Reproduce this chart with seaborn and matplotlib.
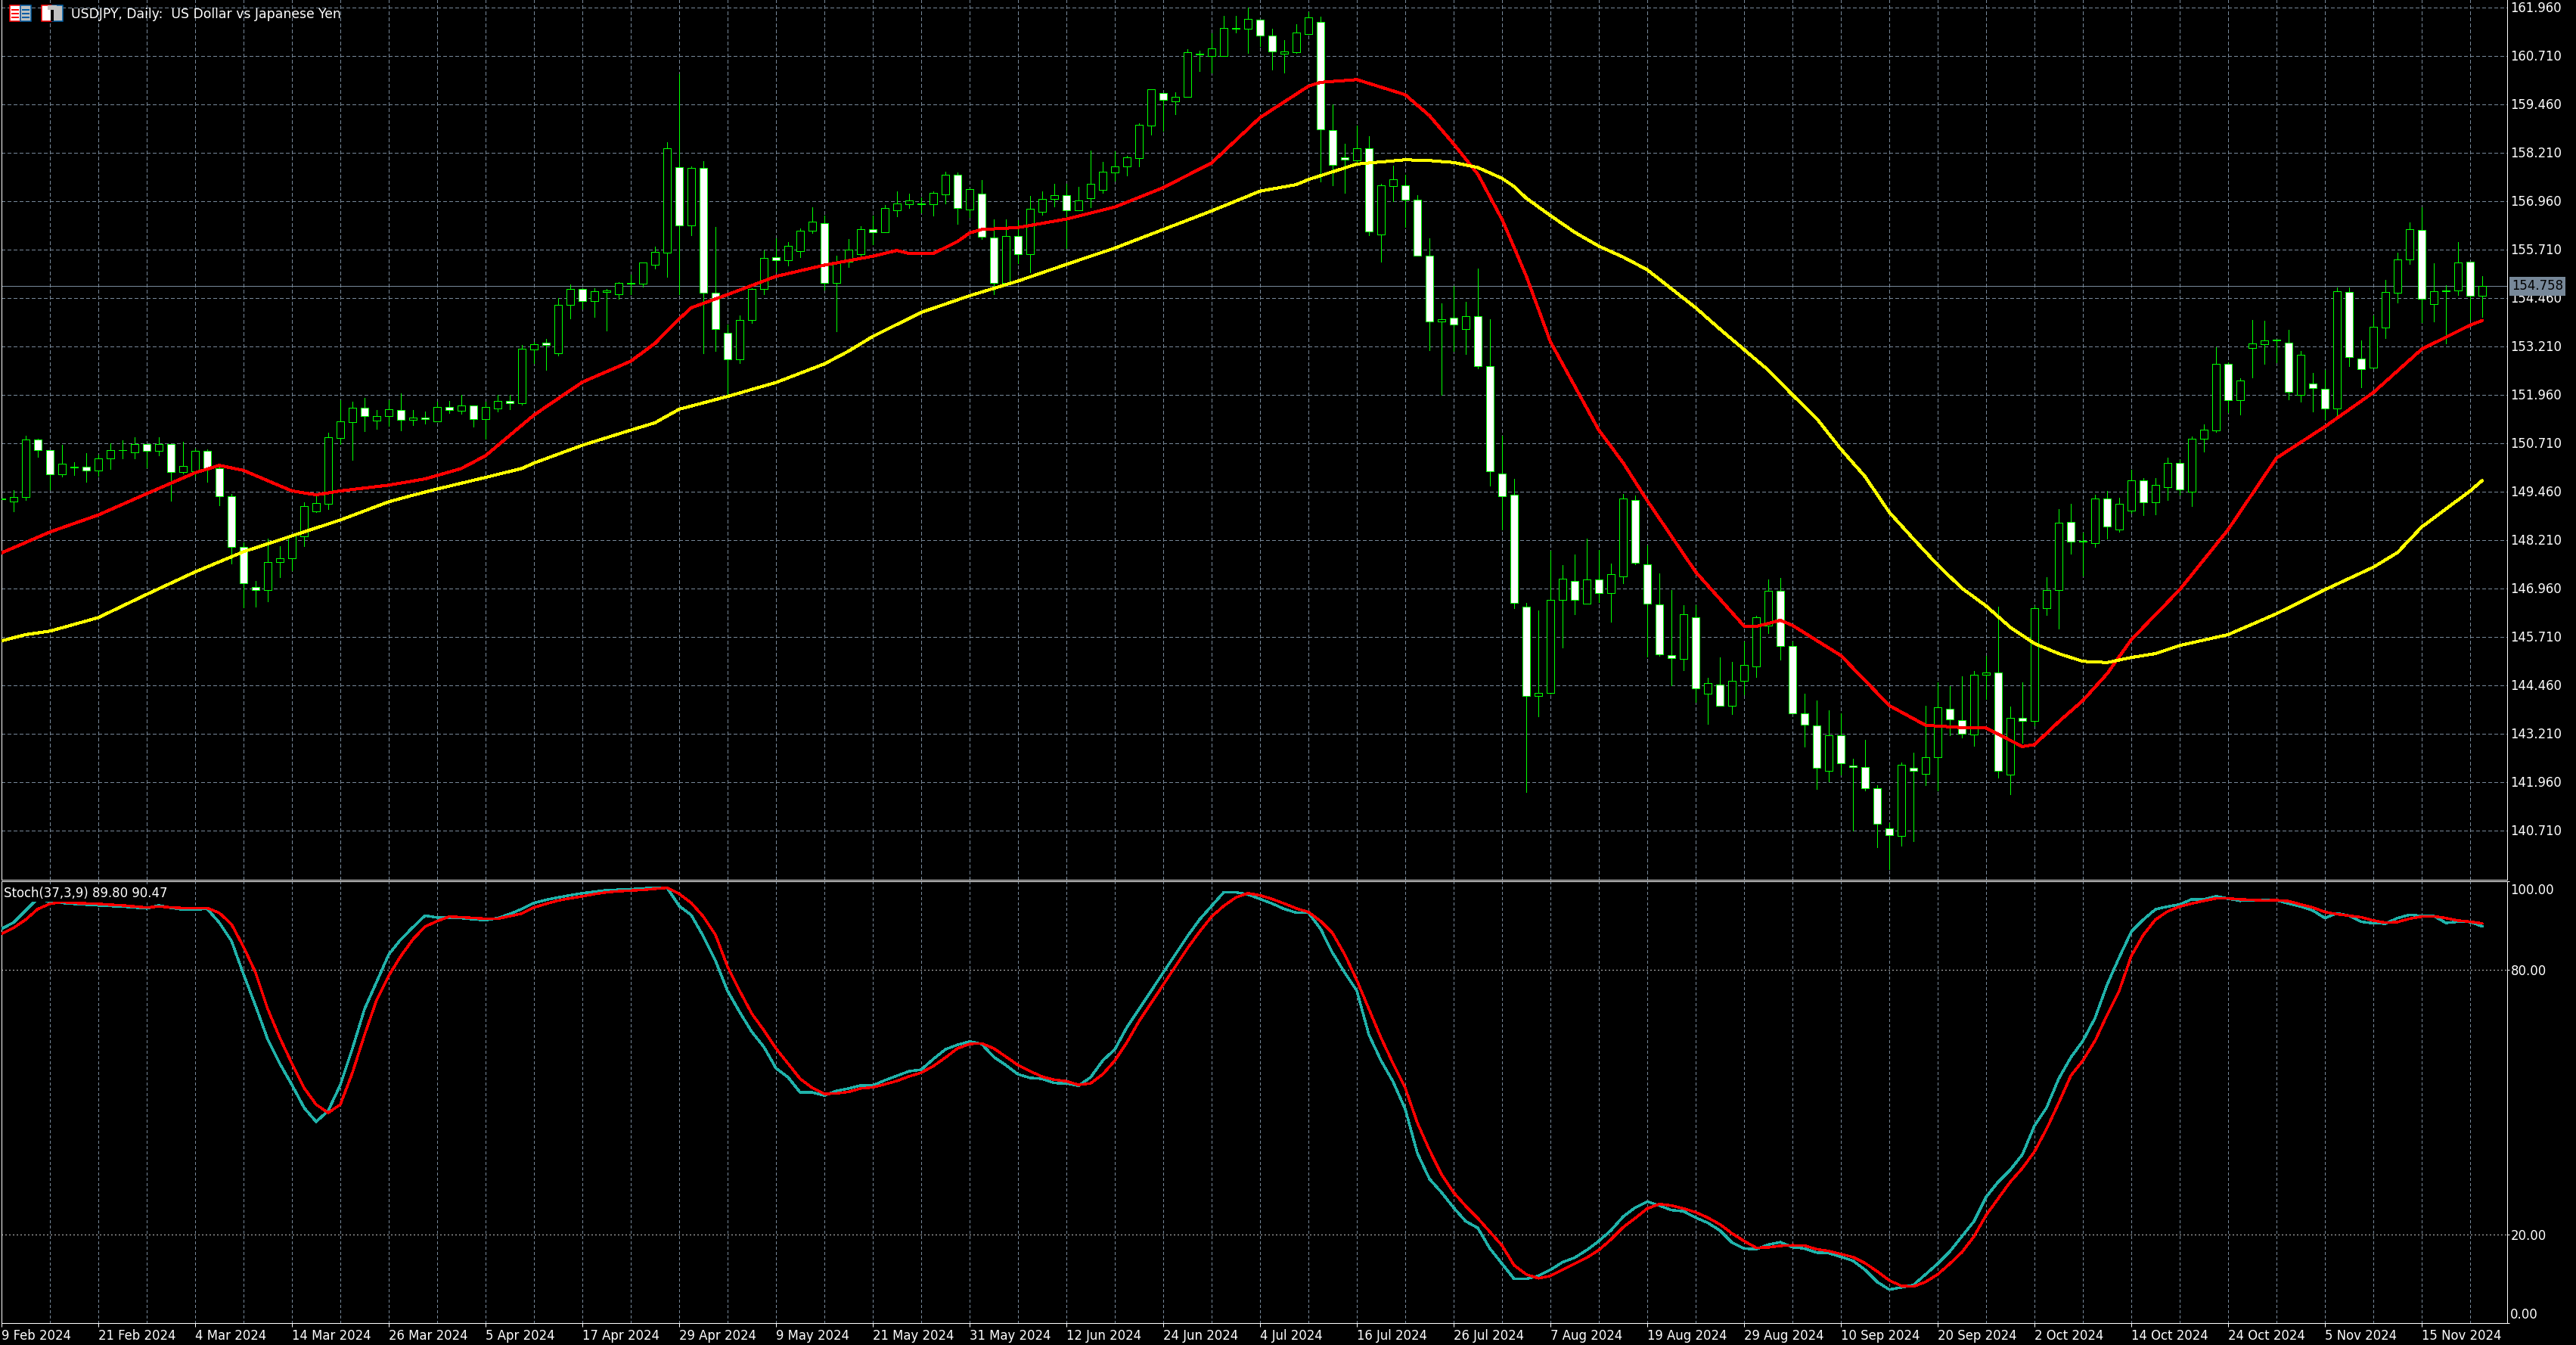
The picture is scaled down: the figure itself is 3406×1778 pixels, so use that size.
import matplotlib
matplotlib.use("Agg")
import matplotlib.pyplot as plt
from matplotlib.patches import Rectangle
from matplotlib.transforms import IdentityTransform
import numpy as np
import pandas as pd
import seaborn as sns

W, H = 3406, 1778

tick_labels = ["9 Feb 2024", "21 Feb 2024", "4 Mar 2024", "14 Mar 2024", "26 Mar 2024", "5 Apr 2024",
               "17 Apr 2024", "29 Apr 2024", "9 May 2024", "21 May 2024", "31 May 2024", "12 Jun 2024",
               "24 Jun 2024", "4 Jul 2024", "16 Jul 2024", "26 Jul 2024", "7 Aug 2024", "19 Aug 2024",
               "29 Aug 2024", "10 Sep 2024", "20 Sep 2024", "2 Oct 2024", "14 Oct 2024", "24 Oct 2024",
               "5 Nov 2024", "15 Nov 2024"]

# B = close above open (black body), S = close below open (white body); ten bars per group
direction = "".join(["BBBSSBBSBB", "BBSBSBBSSS", "SSBBBBBBBB", "SBBSBSBSBS", "BBSBBSBBSB",
                     "BBBBBBSBSS", "SBBBSBBBSB", "BBSBBBSBBS", "BSSBSBBBSB", "BBBBBBSBBB",
                     "BBBBSSBBBS", "SSBSBBSSSB", "SBSSSSSBBB", "SBSBBSSSSB", "SBSBBBBSSS",
                     "SBSSSSSBSB", "BSSBBSBSBB", "BSSBSBBSBB", "SBBBSBBBBS", "BSSBSSBBBB",
                     "SBBBSB"])

body_top = [149.28, 149.32, 150.79, 150.79, 150.53, 150.18, 150.09, 150.09, 150.30, 150.53,
            150.53, 150.69, 150.69, 150.69, 150.69, 150.12, 150.51, 150.51, 150.05, 149.34,
            148.03, 146.98, 147.64, 147.74, 148.31, 149.07, 149.15, 150.85, 151.26, 151.61,
            151.61, 151.41, 151.57, 151.55, 151.37, 151.37, 151.64, 151.64, 151.68, 151.68,
            151.63, 151.80, 151.80, 153.15, 153.26, 153.29, 154.28, 154.69, 154.69, 154.63,
            154.65, 154.85, 154.85, 155.36, 155.65, 158.31, 157.82, 157.81, 157.81, 154.58,
            153.56, 153.88, 154.68, 155.49, 155.50, 155.79, 156.19, 156.42, 156.38, 155.39,
            155.70, 156.23, 156.23, 156.77, 156.89, 156.97, 156.89, 157.16, 157.63, 157.63,
            157.26, 157.15, 156.01, 156.06, 156.06, 156.75, 157.01, 157.11, 157.11, 156.97,
            157.39, 157.72, 157.85, 158.08, 158.93, 159.84, 159.75, 159.64, 160.79, 160.75,
            160.89, 161.43, 161.43, 161.65, 161.63, 161.22, 160.81, 161.30, 161.69, 161.58,
            158.79, 158.08, 158.32, 158.31, 157.37, 157.51, 157.37, 156.98, 155.54, 153.91,
            153.94, 153.99, 153.99, 152.69, 149.92, 149.37, 146.48, 144.25, 146.65, 147.20,
            147.15, 147.18, 147.18, 147.32, 149.27, 149.23, 147.57, 146.54, 145.23, 146.28,
            146.20, 144.51, 144.47, 144.57, 144.98, 146.20, 146.89, 146.89, 145.46, 143.73,
            143.42, 143.16, 143.16, 142.38, 142.35, 141.80, 140.76, 142.39, 142.32, 142.60,
            143.89, 143.85, 143.55, 144.73, 144.79, 144.79, 143.62, 143.62, 146.45, 146.92,
            148.64, 148.67, 148.19, 149.28, 149.28, 149.13, 149.74, 149.74, 149.62, 150.19,
            150.19, 150.81, 151.05, 152.75, 152.75, 152.32, 153.27, 153.35, 153.38, 153.30,
            152.98, 152.25, 152.10, 154.62, 154.60, 152.89, 153.70, 154.60, 155.44, 156.23,
            156.20, 154.63, 154.64, 155.36, 155.38, 154.758]
body_bottom = [149.26, 149.20, 149.32, 150.53, 149.90, 149.90, 150.08, 150.00, 150.00, 150.30,
               150.52, 150.47, 150.51, 150.51, 149.96, 149.96, 149.98, 150.05, 149.34, 148.03,
               147.08, 146.91, 146.91, 147.64, 147.73, 148.30, 148.95, 149.14, 150.84, 151.25,
               151.41, 151.29, 151.41, 151.31, 151.31, 151.33, 151.27, 151.55, 151.54, 151.33,
               151.33, 151.60, 151.74, 151.74, 153.13, 153.24, 153.02, 154.28, 154.38, 154.38,
               154.61, 154.55, 154.82, 154.82, 155.31, 155.63, 156.33, 156.32, 154.58, 153.64,
               152.87, 152.87, 153.88, 154.68, 155.42, 155.42, 155.66, 156.18, 154.85, 154.85,
               155.39, 155.59, 156.14, 156.14, 156.71, 156.88, 156.87, 156.87, 157.12, 156.77,
               156.73, 156.03, 154.84, 154.84, 155.59, 155.59, 156.67, 157.00, 156.71, 156.71,
               157.02, 157.25, 157.70, 157.84, 158.07, 158.90, 159.56, 159.52, 159.64, 160.73,
               160.71, 160.71, 161.41, 161.40, 161.22, 160.81, 160.76, 160.80, 161.26, 158.80,
               157.88, 158.03, 158.01, 156.16, 156.10, 157.35, 156.98, 155.54, 153.84, 153.84,
               153.76, 153.64, 152.69, 149.97, 149.34, 146.57, 144.17, 144.17, 144.25, 146.65,
               146.65, 146.56, 146.83, 146.83, 147.26, 147.61, 146.55, 145.25, 145.15, 145.13,
               144.37, 144.23, 143.92, 143.92, 144.56, 144.93, 146.00, 145.46, 143.73, 143.43,
               142.32, 142.25, 142.44, 142.34, 141.80, 140.88, 140.59, 140.57, 142.25, 142.17,
               142.59, 143.58, 143.21, 143.19, 144.73, 142.25, 142.15, 143.54, 143.54, 146.45,
               146.92, 148.17, 148.17, 148.13, 148.56, 148.48, 148.96, 149.18, 149.18, 149.57,
               149.51, 149.46, 150.81, 151.03, 151.81, 151.81, 153.17, 153.25, 153.35, 152.02,
               151.95, 152.12, 151.60, 151.60, 152.92, 152.62, 152.66, 153.68, 154.58, 155.44,
               154.43, 154.29, 154.63, 154.64, 154.51, 154.51]
highs = [149.40, 149.49, 150.89, 150.81, 150.53, 150.66, 150.21, 150.44, 150.40, 150.70,
         150.78, 150.85, 150.69, 150.85, 150.69, 150.74, 150.57, 150.55, 150.09, 149.39,
         148.15, 147.14, 148.23, 148.04, 148.33, 149.17, 149.34, 150.97, 151.82, 151.77,
         151.87, 151.55, 151.82, 151.98, 151.55, 151.52, 151.77, 151.80, 151.95, 151.68,
         151.77, 151.95, 151.95, 153.24, 153.32, 153.39, 154.46, 154.80, 154.71, 154.71,
         154.68, 154.86, 155.05, 155.36, 155.77, 158.47, 160.24, 157.85, 157.98, 156.28,
         153.77, 154.00, 154.70, 155.68, 155.99, 155.89, 156.24, 156.80, 156.57, 155.55,
         155.97, 156.30, 156.57, 156.85, 157.21, 157.15, 157.05, 157.21, 157.71, 157.69,
         157.28, 157.49, 156.49, 156.49, 156.46, 157.09, 157.21, 157.40, 157.40, 157.32,
         158.26, 157.96, 158.23, 158.13, 158.97, 159.85, 159.75, 159.76, 160.87, 160.83,
         161.28, 161.74, 161.74, 161.96, 161.63, 161.40, 161.12, 161.53, 161.84, 161.71,
         159.46, 158.43, 158.91, 158.63, 157.40, 157.87, 157.63, 157.10, 155.99, 154.31,
         154.77, 154.35, 155.21, 153.90, 150.90, 149.78, 146.57, 146.38, 147.92, 147.55,
         147.83, 148.23, 147.94, 147.59, 149.39, 149.35, 148.06, 147.35, 146.92, 146.52,
         146.52, 144.65, 145.17, 145.05, 145.58, 146.25, 147.19, 147.23, 145.58, 144.24,
         144.05, 143.80, 143.72, 142.55, 143.05, 141.88, 140.89, 142.45, 142.71, 143.93,
         144.52, 144.44, 144.68, 144.83, 145.22, 146.49, 143.90, 144.52, 146.51, 147.24,
         149.01, 149.13, 148.39, 149.37, 149.47, 149.29, 150.01, 149.81, 149.80, 150.32,
         150.27, 150.87, 151.18, 153.19, 152.79, 152.38, 153.88, 153.87, 153.38, 153.63,
         153.09, 152.52, 152.59, 154.72, 154.72, 153.36, 154.00, 154.92, 155.63, 156.41,
         156.80, 155.35, 154.79, 155.90, 155.38, 155.01]
lows = [149.04, 148.95, 149.24, 150.35, 149.51, 149.84, 149.88, 149.71, 149.86, 150.03,
        150.31, 150.31, 150.07, 150.38, 149.22, 149.92, 149.84, 149.71, 149.10, 147.60,
        146.47, 146.49, 146.62, 147.24, 147.42, 148.05, 148.92, 149.00, 150.69, 150.27,
        151.01, 151.07, 151.15, 151.03, 151.17, 151.20, 151.27, 151.49, 151.47, 151.13,
        150.81, 151.52, 151.58, 151.70, 152.78, 152.60, 152.97, 153.93, 154.18, 153.97,
        153.61, 154.44, 154.55, 154.75, 155.21, 155.00, 154.55, 156.07, 153.02, 153.08,
        151.92, 152.77, 153.80, 154.54, 155.14, 155.29, 155.51, 156.13, 154.66, 153.60,
        155.26, 155.52, 155.83, 156.14, 156.55, 156.77, 156.65, 156.58, 156.90, 156.37,
        156.54, 155.97, 154.54, 154.78, 155.35, 155.12, 156.59, 156.82, 155.74, 156.71,
        156.80, 157.17, 157.48, 157.62, 157.84, 158.67, 158.77, 159.20, 159.64, 160.31,
        160.28, 160.71, 161.30, 160.78, 160.96, 160.35, 160.27, 160.77, 161.26, 157.45,
        157.36, 157.17, 157.91, 156.07, 155.38, 156.96, 156.29, 155.54, 153.11, 151.96,
        153.08, 153.00, 152.64, 149.61, 148.48, 146.44, 141.69, 143.64, 144.24, 145.43,
        146.28, 146.56, 146.59, 146.09, 147.08, 147.58, 145.19, 145.21, 144.45, 144.85,
        144.03, 143.45, 143.92, 143.70, 144.22, 144.66, 145.79, 145.12, 143.73, 142.86,
        141.77, 141.97, 142.15, 140.71, 141.74, 140.27, 139.70, 140.31, 140.43, 141.87,
        141.73, 143.16, 143.11, 142.89, 144.09, 142.06, 141.64, 142.96, 143.42, 146.27,
        145.92, 147.85, 147.29, 148.03, 148.24, 148.42, 148.91, 148.85, 148.87, 149.24,
        149.37, 149.08, 150.49, 151.00, 151.50, 151.45, 152.40, 152.75, 152.79, 151.84,
        151.78, 151.53, 151.32, 151.38, 152.69, 152.15, 152.65, 153.42, 154.34, 155.33,
        153.83, 153.84, 153.28, 154.53, 153.90, 153.97]

red_bars = [0, 4, 8, 12, 16, 18, 20, 24, 26, 28, 32, 35, 38, 40, 44, 48, 52, 54, 56, 57, 60, 64, 68, 72,
            74, 75, 77, 79, 80, 81, 84, 88, 92, 96, 100, 104, 108, 109, 112, 116, 118, 120, 122, 124, 126,
            128, 130, 132, 134, 135, 136, 140, 144, 145, 147, 148, 152, 156, 159, 160, 162, 164, 167, 168,
            170, 172, 174, 176, 180, 184, 188, 192, 196, 200, 204, 205]
red_ma = [147.87, 148.41, 148.85, 149.40, 149.94, 150.13, 150.00, 149.47, 149.37, 149.47, 149.62, 149.78,
          150.05, 150.38, 151.43, 152.28, 152.82, 153.28, 153.91, 154.20, 154.54, 155.01, 155.30, 155.53,
          155.68, 155.60, 155.60, 155.91, 156.13, 156.22, 156.27, 156.49, 156.80, 157.30, 157.94, 159.11,
          159.92, 160.02, 160.09, 159.70, 159.16, 158.43, 157.65, 156.48, 155.02, 153.32, 152.18, 151.04,
          150.20, 149.71, 149.22, 147.38, 145.98, 145.97, 146.13, 146.00, 145.22, 143.93, 143.42, 143.40,
          143.36, 143.35, 142.87, 142.92, 143.51, 144.06, 144.75, 145.63, 146.92, 148.47, 150.32, 151.13,
          152.01, 153.13, 153.75, 153.87]

yellow_bars = [0, 2, 4, 8, 12, 16, 20, 24, 28, 32, 34, 36, 40, 43, 44, 48, 52, 54, 56, 60, 64, 68, 70, 72, 76,
               80, 84, 88, 92, 96, 100, 104, 107, 108, 112, 116, 118, 120, 122, 124, 125, 126, 128, 130, 132,
               134, 136, 138, 140, 142, 144, 146, 148, 150, 152, 154, 156, 158, 160, 162, 164, 166, 168, 170,
               172, 174, 176, 178, 180, 184, 188, 192, 196, 198, 200, 204, 205]
yellow_ma = [145.60, 145.76, 145.85, 146.20, 146.80, 147.38, 147.90, 148.31, 148.72, 149.19, 149.36, 149.52,
             149.82, 150.05, 150.19, 150.65, 151.04, 151.23, 151.58, 151.91, 152.27, 152.75, 153.08, 153.46,
             154.08, 154.51, 154.89, 155.32, 155.74, 156.22, 156.70, 157.21, 157.38, 157.51, 157.91, 158.02,
             158.00, 157.95, 157.82, 157.54, 157.33, 157.03, 156.58, 156.15, 155.79, 155.51, 155.18, 154.69,
             154.20, 153.65, 153.12, 152.59, 151.95, 151.34, 150.55, 149.84, 148.92, 148.23, 147.56, 146.96,
             146.50, 145.95, 145.53, 145.27, 145.07, 145.04, 145.17, 145.27, 145.48, 145.76, 146.30, 146.92,
             147.50, 147.88, 148.54, 149.47, 149.74]

stoch_k = [89.27, 90.64, 93.38, 96.13, 95.31, 95.10, 94.89, 94.72, 94.55, 94.40, 94.28, 94.07, 93.86, 94.55,
           94.00, 93.59, 93.66, 93.73, 90.64, 86.52, 78.97, 71.76, 64.21, 58.72, 53.92, 48.77, 45.55, 48.09,
           53.92, 62.16, 71.08, 77.25, 83.43, 86.86, 89.61, 92.22, 91.81, 91.75, 91.67, 91.40, 91.19, 91.67,
           92.60, 93.73, 95.10, 95.80, 96.34, 96.85, 97.30, 97.65, 97.98, 98.10, 98.20, 98.40, 98.50, 98.53,
           94.41, 92.35, 87.55, 82.06, 75.20, 70.39, 65.93, 62.50, 57.69, 55.63, 52.20, 52.20, 51.52, 52.55,
           53.10, 53.78, 53.78, 54.95, 55.98, 57.01, 57.35, 59.75, 61.95, 62.98, 63.73, 63.18, 60.23, 58.38,
           56.32, 55.50, 55.29, 54.33, 54.26, 53.71, 55.63, 59.41, 61.95, 66.96, 71.08, 75.20, 79.31, 83.43,
           87.55, 91.33, 94.41, 97.50, 97.50, 97.02, 95.99, 94.96, 93.73, 92.90, 92.84, 89.27, 83.78, 79.31,
           75.20, 65.24, 59.41, 54.61, 48.43, 38.48, 32.64, 29.56, 26.12, 23.03, 21.52, 16.86, 13.43, 9.99,
           9.99, 10.68, 12.05, 13.77, 14.80, 16.52, 18.57, 20.98, 24.06, 26.12, 27.50, 26.60, 25.57, 25.30,
           23.86, 22.69, 20.98, 18.23, 16.86, 16.72, 17.75, 18.30, 17.20, 16.86, 15.96, 15.83, 15.00, 14.11,
           12.05, 9.31, 7.59, 8.07, 8.62, 11.02, 13.43, 16.17, 19.60, 23.03, 28.52, 31.96, 34.70, 38.13,
           44.65, 48.77, 55.29, 60.10, 63.87, 69.02, 76.57, 82.75, 88.58, 91.33, 93.66, 94.28, 94.76, 95.92,
           95.92, 96.61, 96.06, 95.58, 95.65, 95.72, 95.72, 94.96, 94.28, 93.38, 91.67, 92.77, 92.22, 90.84,
           90.50, 90.43, 91.67, 92.42, 92.15, 92.15, 90.57, 90.84, 90.78, 89.80]
stoch_d = [88.10, 89.47, 91.33, 93.73, 94.89, 95.31, 95.10, 95.00, 94.89, 94.70, 94.55, 94.30, 94.07, 94.28,
           94.10, 93.93, 93.95, 93.93, 92.84, 90.30, 85.15, 79.31, 71.08, 64.56, 58.72, 53.23, 49.46, 47.61,
           49.46, 56.67, 65.24, 73.14, 78.63, 83.09, 86.86, 89.75, 90.98, 92.01, 91.87, 91.70, 91.53, 91.53,
           92.10, 92.70, 94.07, 94.90, 95.65, 96.15, 96.61, 97.10, 97.50, 97.75, 97.90, 98.05, 98.30, 98.53,
           97.16, 95.10, 92.01, 87.89, 80.69, 75.20, 70.05, 66.27, 62.16, 58.72, 55.29, 53.23, 51.86, 51.99,
           52.34, 53.10, 53.37, 54.06, 54.81, 55.84, 56.67, 58.17, 60.10, 62.16, 63.18, 63.32, 62.16, 60.30,
           58.38, 57.01, 55.77, 55.09, 54.74, 53.92, 54.26, 56.32, 59.41, 63.53, 68.33, 72.45, 76.57, 80.69,
           84.81, 88.58, 92.01, 94.41, 96.34, 97.30, 96.82, 95.99, 94.96, 93.86, 93.04, 90.98, 88.24, 83.43,
           77.60, 71.08, 64.56, 58.72, 53.23, 45.34, 39.16, 33.67, 29.56, 26.47, 23.72, 20.63, 17.54, 13.08,
           11.02, 10.13, 10.68, 12.05, 13.43, 14.80, 16.52, 18.92, 21.66, 23.72, 25.92, 26.95, 26.60, 25.92,
           25.09, 23.86, 22.35, 20.29, 18.57, 17.06, 17.13, 17.48, 17.61, 17.54, 16.72, 16.31, 15.62, 14.94,
           13.56, 11.71, 9.65, 8.42, 8.28, 9.31, 11.02, 13.43, 16.03, 19.60, 24.41, 28.18, 31.96, 35.05,
           38.82, 43.97, 49.80, 55.98, 59.41, 63.87, 69.71, 75.20, 83.09, 87.89, 91.33, 93.18, 94.28, 94.96,
           95.58, 96.13, 96.13, 95.92, 95.79, 95.65, 95.72, 95.51, 94.76, 94.07, 93.04, 92.56, 92.22, 91.87,
           91.12, 90.64, 90.78, 91.53, 92.01, 92.08, 91.67, 91.12, 90.84, 90.47]

last_price = 154.758
price_ticks = [161.96 - 1.25 * k for k in range(18)]

sns.set_theme(style="dark", rc={
    "figure.facecolor": "black", "axes.facecolor": "black", "savefig.facecolor": "black",
    "axes.edgecolor": "white", "text.color": "white",
    "xtick.color": "white", "ytick.color": "white",
    "xtick.bottom": True, "ytick.right": True,
    "axes.grid": False,
})
plt.rcParams["font.family"] = ["DejaVu Sans"]

px = 0.72  # one pixel in points at dpi 100
GRID = "#778899"
LIME = "#00FF00"
FS = 11.9

fig = plt.figure(figsize=(W / 100, H / 100), dpi=100, facecolor="black")
L, R = 2, 3315
ax = fig.add_axes([L / W, (H - 1163) / H, (R - L) / W, 1163 / H])
sub = fig.add_axes([L / W, (H - 1749) / H, (R - L) / W, (1749 - 1165) / H])

xmax = (R - L) / 16
n = len(highs)
bars = np.arange(n)
up = np.array([c == "B" for c in direction])
top = np.array(body_top)
bot = np.array(body_bottom)

for a, dash in ((ax, (5, 3)), (sub, (3, 4))):
    a.set_facecolor("black")
    a.set_xlim(0, xmax)
    a.set_xticks(np.arange(0, n, 4), minor=True)
    a.set_xticks(np.arange(0, n, 8))
    a.tick_params(which="minor", length=0)
    a.xaxis.grid(True, which="both", color=GRID, lw=px, ls=(0, dash), antialiased=False, zorder=0)
    a.set_axisbelow(True)
    a.yaxis.tick_right()
    for s in a.spines.values():
        s.set_color("white")
        s.set_linewidth(px)

# price pane
ax.set_ylim(161.96 - (1163 - 9.5) / 51.2, 161.96 + 9.5 / 51.2)
ax.spines["top"].set_visible(False)
ax.set_yticks(price_ticks)
ax.set_yticklabels([f"{p:.3f}" for p in price_ticks])
ax.tick_params(axis="y", length=0, pad=4 * px, labelsize=FS)
ax.tick_params(axis="x", which="both", length=0, labelbottom=False)
ax.yaxis.grid(True, color=GRID, lw=px, ls=(0, (5, 3)), antialiased=False, zorder=0)
ax.axhline(last_price, color=GRID, lw=px, zorder=1, antialiased=False)

ax.vlines(bars, lows, highs, color=LIME, lw=px, zorder=2, antialiased=False)
ax.bar(bars, top - bot, bottom=bot, width=10 / 16, align="center",
       color=np.where(up, "black", "white").tolist(), edgecolor=LIME, linewidth=px,
       zorder=3, antialiased=False)

sns.lineplot(data=pd.DataFrame({"bar": red_bars, "ma": red_ma}), x="bar", y="ma", ax=ax, color="#FF0000",
             lw=3 * px, errorbar=None, zorder=4, antialiased=False)
sns.lineplot(data=pd.DataFrame({"bar": yellow_bars, "ma": yellow_ma}), x="bar", y="ma", ax=ax, color="#FFFF00",
             lw=3 * px, errorbar=None, zorder=4, antialiased=False)
ax.set_xlabel("")
ax.set_ylabel("")
ax.yaxis.tick_right()

ax.annotate(f"{last_price:.3f}", xy=(1, last_price), xycoords=("axes fraction", "data"),
            xytext=(6, 0), textcoords="offset pixels", ha="left", va="center", fontsize=FS, color="black",
            annotation_clip=False, zorder=10,
            bbox=dict(boxstyle="square,pad=0.2", facecolor=GRID, edgecolor="none"))

fig.text(94 / W, 1 - 18.5 / H, "USDJPY, Daily:  US Dollar vs Japanese Yen", color="white",
         fontsize=12.4, ha="left", va="center")

# chart window icons
iT = IdentityTransform()
def box(x, y, w, h, fc, ec="none"):
    fig.add_artist(Rectangle((x, H - y - h), w, h, facecolor=fc, edgecolor=ec, lw=px * 1.5, transform=iT))
box(13, 7, 14, 21, "white", "#FF0000")
box(27, 7, 14, 21, "#C0C0C0", "#0060A8")
for yy in (12, 17, 22):
    box(15, yy, 10, 2, "#FF0000")
    box(29, yy, 10, 2, "#0060A8")
box(55, 7, 14, 21, "white", "#FF0000")
box(69, 7, 14, 21, "#C0C0C0", "#0060A8")
box(63, 7, 12, 6, "#C0C0C0")
box(67, 13, 4, 15, "black")

# stochastic pane
sub.set_ylim(0, 100)
sub.set_yticks([0, 20, 80, 100])
sub.set_yticklabels(["", "20.00", "80.00", ""])
sub.tick_params(axis="y", length=3 * px, width=px, pad=2 * px, labelsize=FS)
sub.tick_params(axis="x", which="major", length=5 * px, width=px, pad=3 * px, labelsize=FS)
sub.set_xticklabels(tick_labels, ha="left")
for lev in (20, 80):
    sub.axhline(lev, color="#C0C0C0", lw=px, ls=(0, (2, 3)), zorder=1, antialiased=False)
stoch = pd.DataFrame({"bar": bars, "k": stoch_k, "d": stoch_d})
sns.lineplot(data=stoch, x="bar", y="k", ax=sub, color="#20B2AA", lw=2.4 * px, errorbar=None, zorder=3, antialiased=False)
sns.lineplot(data=stoch, x="bar", y="d", ax=sub, color="#FF0000", lw=2.4 * px, errorbar=None, zorder=4, antialiased=False)
sub.set_xlabel("")
sub.set_ylabel("")
sub.yaxis.tick_right()
for val, dy in ((100, -12), (0, 11)):
    sub.annotate(f"{val:.2f}", xy=(1, val), xycoords=("axes fraction", "data"), xytext=(4, dy),
                 textcoords="offset pixels", ha="left", va="center", fontsize=FS, color="white",
                 annotation_clip=False)
sub.text(3 / (R - L), 1 - 16 / 584, "Stoch(37,3,9) 89.80 90.47", transform=sub.transAxes, color="white",
         fontsize=FS, ha="left", va="center", zorder=6,
         bbox=dict(boxstyle="square,pad=0.1", facecolor="black", edgecolor="none"))

fig.savefig("out.png", dpi=100, facecolor="black")
